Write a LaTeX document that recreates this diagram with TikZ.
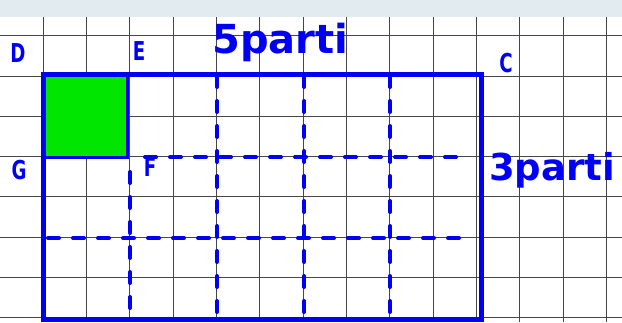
\documentclass[tikz,border=0pt]{standalone}
\usepackage{fontspec}
\setmainfont{DejaVu Sans}
\definecolor{pen}{RGB}{0,0,245}
\definecolor{fillgreen}{RGB}{0,230,0}
\definecolor{strip}{RGB}{226,236,240}
\definecolor{gridc}{RGB}{70,70,70}
\tikzset{
  gridline/.style={draw=gridc,line width=1pt},
  penline/.style={draw=pen,line width=5pt,line join=miter},
  dashline/.style={draw=pen,line width=4pt,line cap=round,dash pattern=on 11pt off 14pt},
  lbl/.style={text=pen,font=\bfseries\fontsize{26}{26}\selectfont,inner sep=0pt,xscale=0.7},
  biglbl/.style={text=pen,font=\bfseries\fontsize{40}{40}\selectfont,inner sep=0pt,anchor=base west},
}
\begin{document}
\begin{tikzpicture}[x=1pt,y=-1pt]
\useasboundingbox (0,0) rectangle (622,322);
\fill[white] (0,0) rectangle (622,322);
\fill[strip] (0,0) rectangle (622,17.3);
% grid
\foreach \k in {1,...,14} \draw[gridline] ({43.33*\k},17.3) -- ({43.33*\k},322);
\foreach \k in {0,...,7} \draw[gridline] (0,{35.7+40.3*\k}) -- (622,{35.7+40.3*\k});
% green square
\fill[fillgreen] (43,74) rectangle (127,157);
\draw[draw=pen,line width=3pt] (127,74) -- (127,157) -- (43,157);
% dashed lines
\draw[dashline] (217,76) -- (217,319);
\draw[dashline] (304,76) -- (304,319);
\draw[dashline] (390,76) -- (390,316);
\draw[dashline] (130,172) -- (130,310);
\draw[dashline] (145,157) -- (466,157);
\draw[dashline] (48,238) -- (466,238);
% main rectangle
\draw[penline] (43,74) rectangle (481,319);
% labels
\node[lbl] (D) at (18,53) {D};
\node[lbl] (E) at (139,51) {E};
\node[lbl] (C) at (506,63) {C};
\node[lbl] (G) at (19,170) {G};
\node[lbl] (F) at (150,167) {F};
\node[biglbl] (cinque) at (212,53) {5parti};
\node[biglbl,font=\bfseries\fontsize{37}{37}\selectfont] (tre) at (489,180) {3parti};
\end{tikzpicture}
\end{document}
